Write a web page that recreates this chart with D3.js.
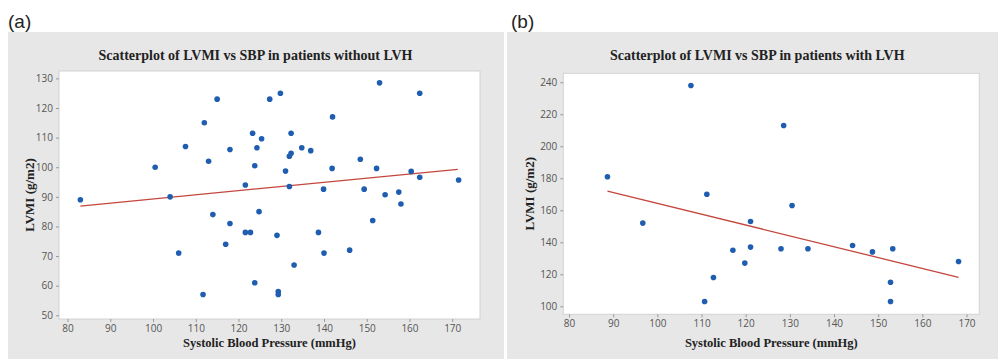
<!DOCTYPE html>
<html>
<head>
<meta charset="utf-8">
<script src="https://cdn.jsdelivr.net/npm/d3@7"></script>
<style>
  body { margin: 0; background: #fff; }
  .tick text { font-family: "Open Sans", "DejaVu Sans", sans-serif; font-size: 10px; fill: #555; }
  .tick line { stroke: #999; }
  .domain { display: none; }
</style>
</head>
<body>
<div id="chart"></div>
<script>
// Panel (a): patients without LVH
const sbpA = [83, 100.5, 104, 107.6, 112, 113, 115, 118, 121.6, 114, 118, 106, 117, 121.6, 122.8,
  111.7, 127.3, 129.8, 153, 162.4, 142, 123.3, 132.3, 125.4, 124.3, 134.8, 136.9, 132.3, 131.9,
  123.8, 131, 141.9, 148.5, 152.3, 160.4, 162.4, 171.5, 131.9, 139.9, 149.4, 154.3, 157.5, 158,
  124.8, 129, 138.7, 140, 146, 151.4, 133, 123.8, 129.3, 129.3];
const lvmiA = [89, 100, 90, 107, 115, 102, 123, 106, 94, 84, 81, 71, 74, 78, 78,
  57, 123, 125, 128.5, 125, 117, 111.5, 111.5, 109.6, 106.6, 106.6, 105.6, 104.7, 103.7,
  100.5, 98.7, 99.6, 102.7, 99.6, 98.6, 96.6, 95.7, 93.5, 92.6, 92.6, 90.7, 91.6, 87.6,
  85, 77, 78, 71, 72, 82, 67, 61, 58, 57];
const fitA_x = [83, 171.3];
const fitA_y = [86.9, 99.3];

// Panel (b): patients with LVH
const sbpB = [88.7, 107.6, 111.2, 96.7, 112.7, 110.7, 117.1, 119.8, 128.6, 130.5, 121.1, 121.1,
  128, 134.1, 144.2, 148.7, 153.3, 152.8, 152.8, 168.2];
const lvmiB = [181, 238, 170, 152, 118, 103, 135, 127, 213, 163, 153, 137,
  136, 136, 138, 134, 136, 115, 103, 128];
const fitB_x = [88.7, 168.2];
const fitB_y = [172, 118.1];

const xTicks = [80, 90, 100, 110, 120, 130, 140, 150, 160, 170];
const yTicksA = [50, 60, 70, 80, 90, 100, 110, 120, 130];
const yTicksB = [100, 120, 140, 160, 180, 200, 220, 240];

const W = 1001, H = 359;
const svg = d3.select("#chart").append("svg").attr("width", W).attr("height", H);

const panels = [
  { tag: "(a)", tagX: 8, bgX: 8, bgW: 496,
    title: "Scatterplot of LVMI vs SBP in patients without LVH",
    plot: { left: 59, right: 480, top: 71, bottom: 319 },
    xDomain: [78, 176.5], yDomain: [48.75, 132.5], yTicks: yTicksA,
    xs: sbpA, ys: lvmiA, fx: fitA_x, fy: fitA_y, ylabX: 29 },
  { tag: "(b)", tagX: 511, bgX: 507, bgW: 491,
    title: "Scatterplot of LVMI vs SBP in patients with LVH",
    plot: { left: 563.3, right: 979.3, top: 73.3, bottom: 314.3 },
    xDomain: [78.7, 172.9], yDomain: [95, 245.6], yTicks: yTicksB,
    xs: sbpB, ys: lvmiB, fx: fitB_x, fy: fitB_y, ylabX: 529 }
];

panels.forEach(p => {
  const g = svg.append("g");
  const pl = p.plot;

  g.append("text")
    .attr("x", p.tagX).attr("y", 28)
    .attr("font-family", "Liberation Sans, Arial, sans-serif")
    .attr("font-size", 19).attr("fill", "#222")
    .text(p.tag);

  g.append("rect")
    .attr("x", p.bgX).attr("y", 32)
    .attr("width", p.bgW).attr("height", H - 32)
    .attr("fill", "#e7e7e7");

  g.append("rect")
    .attr("x", pl.left).attr("y", pl.top)
    .attr("width", pl.right - pl.left).attr("height", pl.bottom - pl.top)
    .attr("fill", "#fff").attr("stroke", "#d2d2d2");

  const x = d3.scaleLinear().domain(p.xDomain).range([pl.left, pl.right]);
  const y = d3.scaleLinear().domain(p.yDomain).range([pl.bottom, pl.top]);
  const cx = (pl.left + pl.right) / 2;

  g.append("text")
    .attr("x", cx - 14).attr("y", 60)
    .attr("text-anchor", "middle")
    .attr("font-family", "Liberation Serif, Times New Roman, serif")
    .attr("font-weight", "bold").attr("font-size", 14).attr("fill", "#222")
    .text(p.title);

  g.append("g")
    .attr("transform", "translate(0," + pl.bottom + ")")
    .call(d3.axisBottom(x).tickValues(xTicks).tickSize(3).tickPadding(3));

  g.append("g")
    .attr("transform", "translate(" + pl.left + ",0)")
    .call(d3.axisLeft(y).tickValues(p.yTicks).tickSize(3).tickPadding(3));

  g.append("text")
    .attr("x", cx).attr("y", 347)
    .attr("text-anchor", "middle")
    .attr("font-family", "Liberation Serif, Times New Roman, serif")
    .attr("font-weight", "bold").attr("font-size", 12.5).attr("fill", "#222")
    .text("Systolic Blood Pressure (mmHg)");

  g.append("text")
    .attr("transform", "translate(" + p.ylabX + "," + (pl.top + pl.bottom) / 2 + ") rotate(-90)")
    .attr("text-anchor", "middle")
    .attr("dy", "0.35em")
    .attr("font-family", "Liberation Serif, Times New Roman, serif")
    .attr("font-weight", "bold").attr("font-size", 13).attr("fill", "#222")
    .text("LVMI (g/m2)");

  const fit = p.fx.map((v, i) => [v, p.fy[i]]);
  g.append("path")
    .datum(fit)
    .attr("fill", "none").attr("stroke", "#c4463c").attr("stroke-width", 1.3)
    .attr("d", d3.line().x(d => x(d[0])).y(d => y(d[1])));

  g.selectAll("circle.pt")
    .data(p.xs.map((v, i) => [v, p.ys[i]]))
    .enter().append("circle")
    .attr("class", "pt")
    .attr("cx", d => x(d[0])).attr("cy", d => y(d[1]))
    .attr("r", 2.8).attr("fill", "#1f5db0");
});
</script>
</body>
</html>
